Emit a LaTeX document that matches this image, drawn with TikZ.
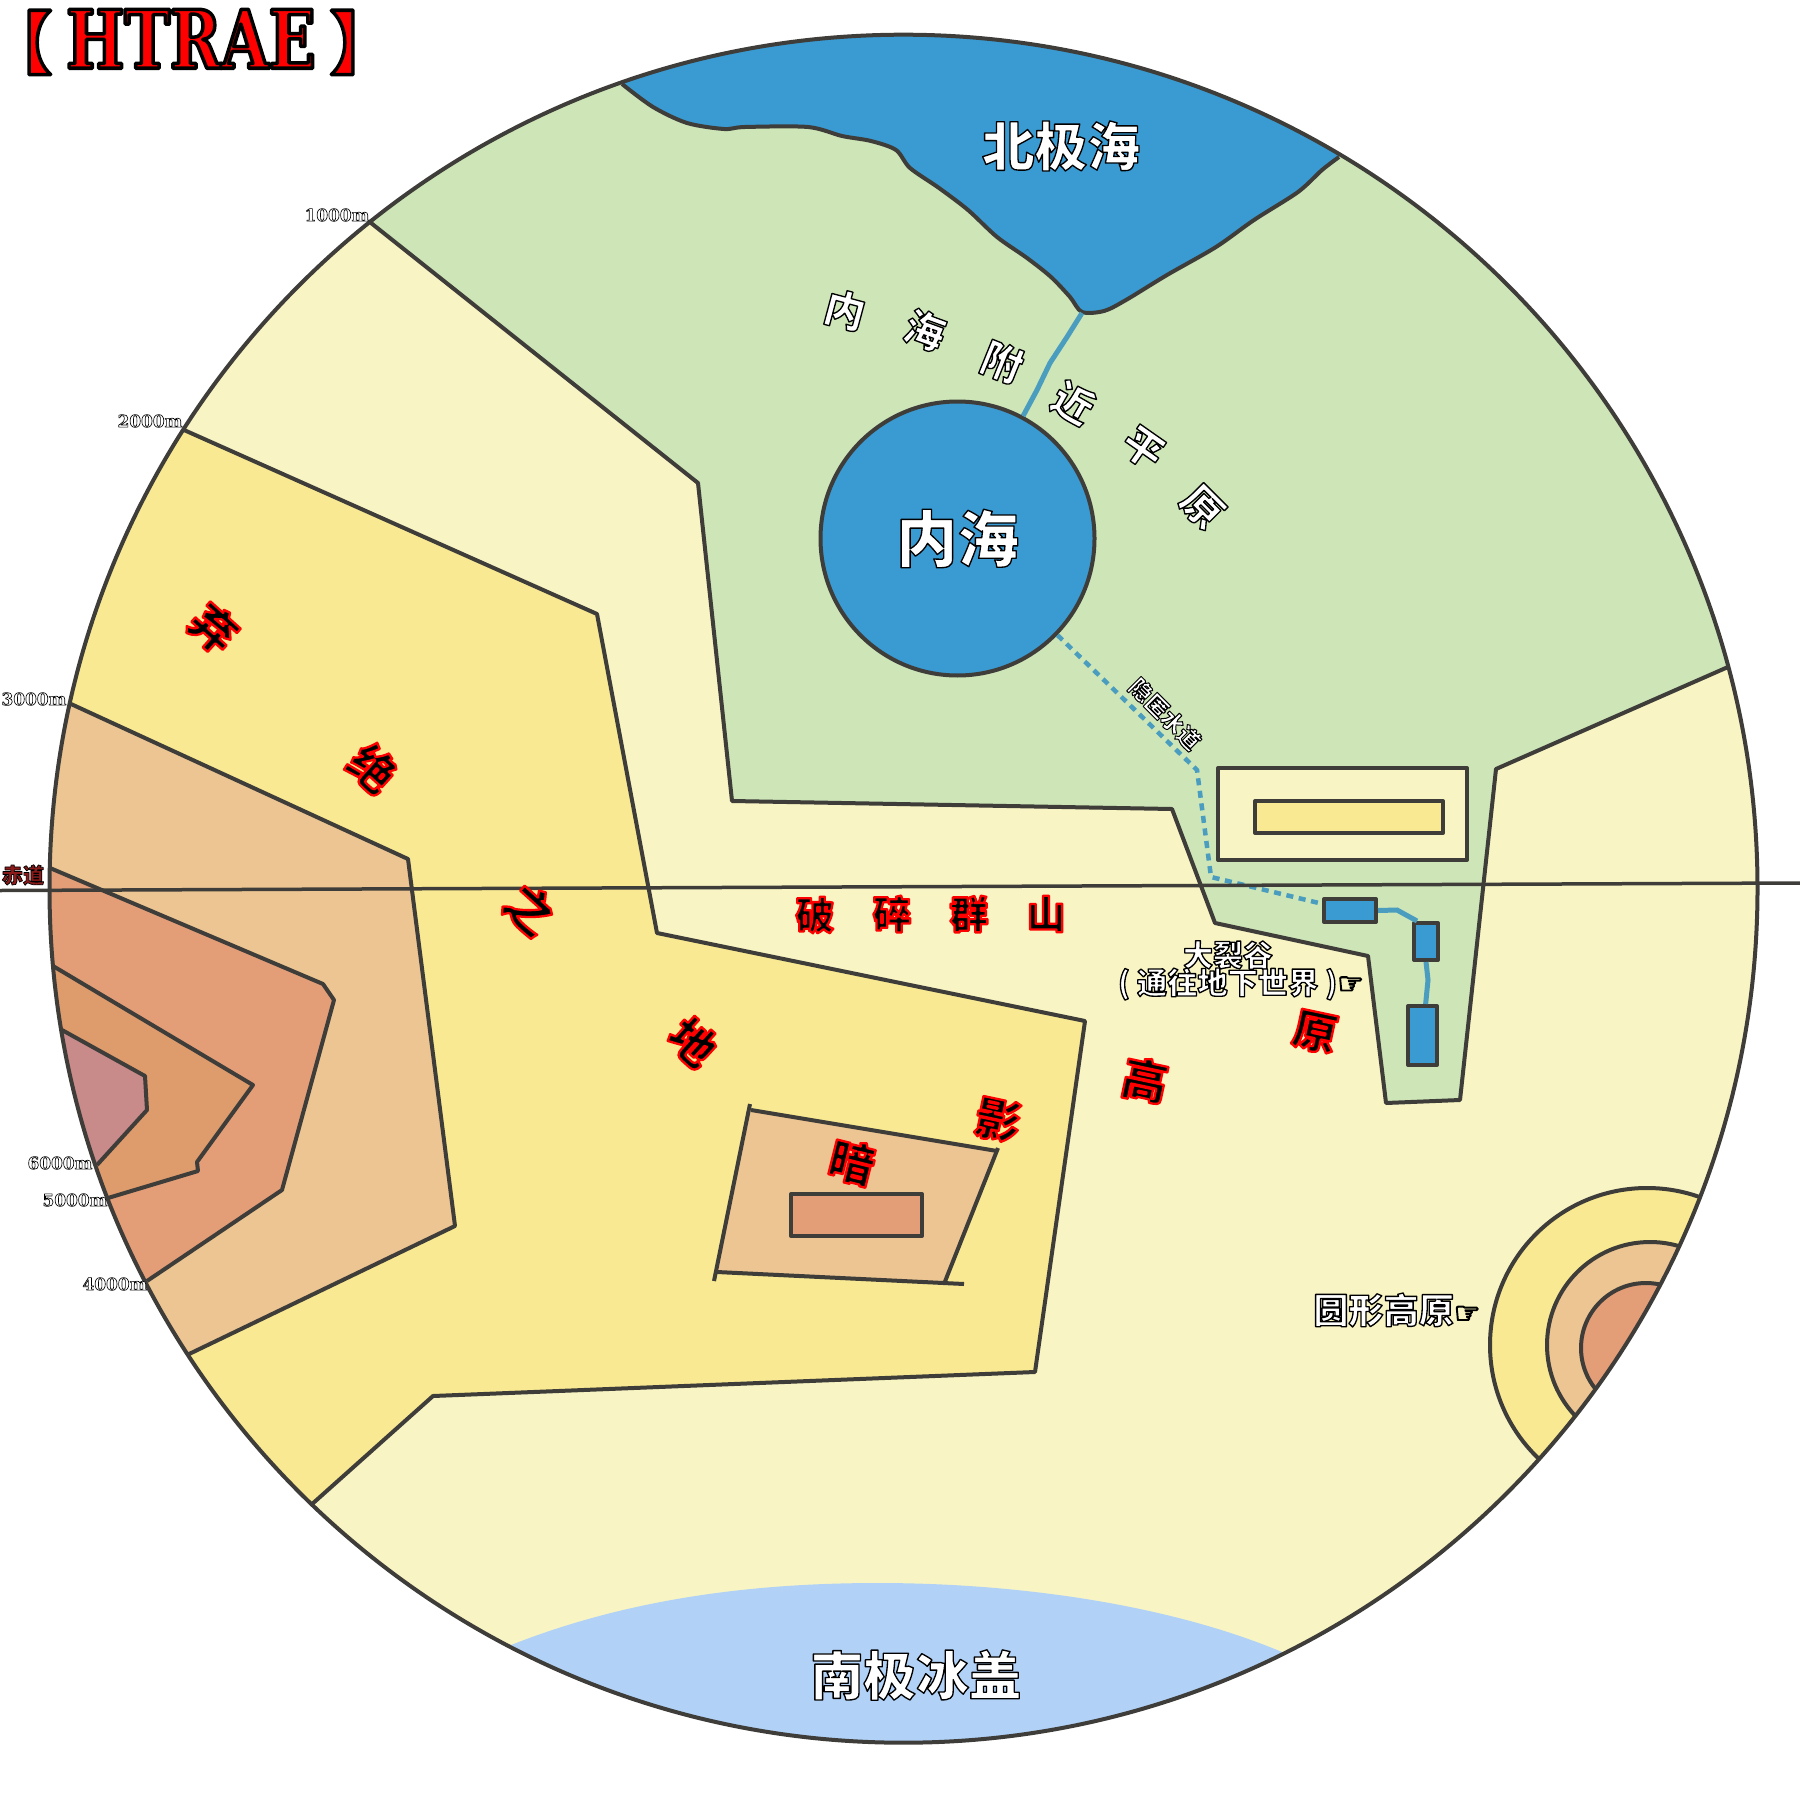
\documentclass[tikz,border=0pt]{standalone}
\usepackage{fontspec}
\setmainfont{Liberation Serif}
\newfontfamily\cjk{Noto Sans CJK SC}
\newfontfamily\hand{DejaVu Sans}
\newfontfamily\meter{DejaVu Serif}
\newfontfamily\titlefont[FakeStretch=0.76]{DejaVu Serif}
\definecolor{plainC}{HTML}{CDE5B7}
\definecolor{creamC}{HTML}{F8F4C3}
\definecolor{yellowC}{HTML}{F9E992}
\definecolor{orangeC}{HTML}{ECC592}
\definecolor{salmonC}{HTML}{E39E78}
\definecolor{tanC}{HTML}{DE9B6C}
\definecolor{pinkC}{HTML}{C98A8A}
\definecolor{seaC}{HTML}{3A9AD2}
\definecolor{iceC}{HTML}{B1D2F6}
\definecolor{riverC}{HTML}{4A9DBE}
\definecolor{edgeC}{HTML}{3F3D3A}
\definecolor{darkredC}{HTML}{8B1A1A}
\tikzset{
	ink/.style n args={3}{execute at begin node={\color{#1}\special{pdf:code 2 Tr #3 w 1 j #2 RG}},
		execute at end node={\special{pdf:code 0 Tr}}},
	mapname/.style={ink={white}{0 0 0}{0.38}, inner sep=0pt, font=\cjk\bfseries\fontsize{#1}{#1}\selectfont},
	redname/.style={ink={black}{1 0 0}{0.65}, inner sep=0pt, font=\cjk\bfseries\fontsize{#1}{#1}\selectfont},
	meterlabel/.style={ink={white}{0 0 0}{0.18}, inner sep=0pt, font=\meter\bfseries\fontsize{4.8}{4.8}\selectfont},
	edge/.style={draw=edgeC, line width=0.4mm, line join=round},
	basin/.style={rectangle, edge, fill=seaC, inner sep=0pt},
	river/.style={draw=riverC, line width=0.5mm},
	channel/.style={river, line width=0.45mm, dash pattern=on 2pt off 1.6pt},
}
% fill a zone, closing it outside the globe, and stroke only its inner border
\newcommand{\zone}[3]{\fill[#1] #2 -- #3 -- cycle; \draw[edge] #2;}
\begin{document}
\begin{tikzpicture}[x=0.1mm,y=-0.1mm]
	\path[use as bounding box] (0,0) rectangle (1800,1800);
	\coordinate (globe) at (903.5,888.7);
	\fill[creamC] (globe) circle[radius=854];
	\begin{scope}
		\clip (globe) circle[radius=854];
		\fill[iceC] (511,1645) .. controls (620,1602) and (740,1583) .. (878,1583) .. controls (1020,1583) and (1170,1605) .. (1282,1652) -- (1282,1800) -- (511,1800) -- cycle;
		\zone{plainC}{(371,223) -- (698,483) -- (732,801) -- (1172,809) -- (1215,923) -- (1368,956) -- (1386,1103) -- (1460,1100) -- (1496,769) -- (1728,667)}{(1800,667) -- (1800,0) -- (0,0) -- (0,223)}
		\zone{seaC}{plot[smooth,tension=0.5] coordinates {(622,84) (653,107) (687,123) (724,129) (745,127) (808,127) (842,136) (871,141) (896,150) (910,168) (939,188) (968,210) (997,237) (1027,258) (1051,277) (1070,297) (1082,312) (1104,311) (1126,300) (1167,275) (1216,247) (1254,220) (1298,192) (1322,170) (1339,157)}}{(1339,0) -- (622,0)}
		\zone{yellowC}{(184,430) -- (597,614) -- (657,933) -- (1085,1021) -- (1035,1372) -- (433,1396) -- (311,1505)}{(0,1505) -- (0,430)}
		\zone{orangeC}{(71,704) -- (408,859) -- (455,1226) -- (187,1355)}{(0,1355) -- (0,704)}
		\zone{salmonC}{(50,868) -- (323,984) -- (334,1000) -- (282,1190) -- (147,1281)}{(0,1281) -- (0,868)}
		\zone{tanC}{(53,966) -- (253,1085) -- (197,1162) -- (198,1171) -- (108,1198)}{(0,1198) -- (0,966)}
		\zone{pinkC}{(62,1030) -- (145,1076) -- (147,1110) -- (97,1165)}{(0,1165) -- (0,1030)}
		\draw[edge,fill=yellowC] (1647,1345) circle[radius=157];
		\draw[edge,fill=orangeC] (1650,1345) circle[radius=103];
		\draw[edge,fill=salmonC] (1646,1348) circle[radius=65];
	\end{scope}
	% shadow plateau
	\fill[orangeC] (751,1110) -- (997,1151) -- (944,1283) -- (716,1272) -- cycle;
	\draw[edge] (750,1104) -- (714,1281);
	\draw[edge] (751,1110) -- (997,1151);
	\draw[edge] (998,1148) -- (944,1284);
	\draw[edge] (717,1272) -- (964,1284);
	\node (shadowcore) at (856.5,1215) [rectangle, edge, fill=salmonC, inner sep=0pt, minimum width=13.1mm, minimum height=4.2mm] {};
	% rift valley
	\node (riftouter) at (1342.5,814) [rectangle, edge, fill=creamC, inner sep=0pt, minimum width=24.9mm, minimum height=9.2mm] {};
	\node (riftinner) at (1349,817) [rectangle, edge, fill=yellowC, inner sep=0pt, minimum width=18.8mm, minimum height=3.2mm] {};
	\node (basinA) at (1350,910.5) [basin, minimum width=5.2mm, minimum height=2.3mm] {};
	\node (basinB) at (1426,941.5) [basin, minimum width=2.4mm, minimum height=3.7mm] {};
	\node (basinC) at (1422.5,1035.5) [basin, minimum width=2.9mm, minimum height=5.9mm] {};
	% inner sea and waters
	\node (innersea) at (957.5,538.5) [circle, edge, fill=seaC, inner sep=0pt, minimum size=27.4mm, mapname=17.5] {\raisebox{0.7pt}{内海}\hspace{1pt}};
	\coordinate (oceantip) at (1082,313);
	\draw[river] (oceantip) -- (1067,337) -- (1050,363) -- (1037,390) -- (innersea);
	\draw[channel] (innersea) -- (1197,770) -- (1211,877) -- (basinA);
	\draw[river] (basinA.east) -- (1397,910) -- (1417,921);
	\draw[river] (basinB.south) -- (1428,980) -- (basinC);
	% equator and rim
	\coordinate (equatorW) at (0,890.5);
	\coordinate (equatorE) at (1800,883);
	\draw[draw=edgeC, line width=0.35mm] (equatorW) -- (equatorE);
	\draw[edge] (globe) circle[radius=854];
	% names
	\node (title) at (191,42) [ink={red}{0 0 0}{1.0}, inner sep=0pt, font=\titlefont\bfseries\fontsize{23}{23}\selectfont] {{\cjk\fontsize{19.3}{19.3}\selectfont【}\hspace{4pt}HTRAE\hspace{4pt}{\cjk\fontsize{19.3}{19.3}\selectfont】}};
	\node (ocean) at (1061,146) [mapname=15] {北极海};
	\node (south) at (916,1675) [mapname=15] {南极冰盖};
	\node (n1) at (845,310) [mapname=11.5, rotate=-15] {内};
	\node (n2) at (925,330) [mapname=11.5, rotate=-20] {海};
	\node (n3) at (1002,362) [mapname=11.5, rotate=-22] {附};
	\node (n4) at (1073,403) [mapname=11.5, rotate=-30] {近};
	\node (n5) at (1143,448) [mapname=11.5, rotate=-35] {平};
	\node (n6) at (1202,507) [mapname=11.5, rotate=-45] {原};
	\node (a1) at (214,628) [redname=13, rotate=-42] {弃};
	\node (a2) at (373,768) [redname=13, rotate=-42] {绝};
	\node (a3) at (530,909) [redname=13.5, rotate=-42] {之};
	\node (a4) at (693,1042) [redname=13, rotate=-42] {地};
	\node (b1) at (852,1162) [redname=13, rotate=-14] {暗};
	\node (b2) at (998,1120) [redname=13, rotate=-12] {影};
	\node (b3) at (1145,1080) [redname=13, rotate=-12] {高};
	\node (b4) at (1315,1032) [redname=12.5, rotate=-12] {原};
	\node (c1) at (815,915) [redname=11] {破};
	\node (c2) at (892,914) [redname=11] {碎};
	\node (c3) at (969,914) [redname=11] {群};
	\node (c4) at (1046,914) [redname=11] {山};
	\node (hidden) at (1165,714) [ink={white}{0 0 0}{0.28}, inner sep=0pt, font=\cjk\bfseries\fontsize{6.4}{6.4}\selectfont, rotate=-45] {隐匿水道};
	\node (rift1) at (1228,955) [mapname=8.5] {大裂谷};
	\node (rift2) at (1241,984) [mapname=8.6] {( 通往地下世界 ){\hand\fontsize{8.5}{8.5}\selectfont ☞}};
	\node (round) at (1397,1310) [mapname=10] {圆形高原{\hand\fontsize{8.5}{8.5}\selectfont ☞}};
	\node (m1) at (337,215) [meterlabel] {1000m};
	\node (m2) at (150,421) [meterlabel] {2000m};
	\node (m3) at (34,699) [meterlabel] {3000m};
	\node (m4) at (115,1284) [meterlabel] {4000m};
	\node (m5) at (75,1200) [meterlabel] {5000m};
	\node (m6) at (60,1163) [meterlabel] {6000m};
	\node (equatorname) at (23,875) [ink={darkredC}{0 0 0}{0.2}, inner sep=0pt, font=\cjk\bfseries\fontsize{6}{6}\selectfont] {赤道};
\end{tikzpicture}
\end{document}
